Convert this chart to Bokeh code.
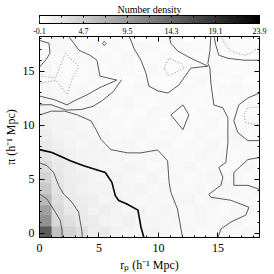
import numpy as np
from bokeh.plotting import figure
from bokeh.layouts import column
from bokeh.models import (LinearColorMapper, FixedTicker, SingleIntervalTicker,
                          LinearAxis, Range1d, PrintfTickFormatter)
from bokeh.embed import file_html
from bokeh.resources import INLINE

# ---------------- data ----------------
# number density on a 1 h^-1 Mpc grid (row 0 = pi 0, column 0 = rp 0)
density_rows = [
    [15.4, 5.8, 4.0, 2.9, 1.6, 1.8, 1.2, 1.0, 0.9, 1.1, 0.8, 0.6, 0.7, 0.5, 0.6, 0.9, 0.5, 0.7, 0.6],
    [10.3, 3.6, 2.9, 2.0, 1.7, 1.2, 1.0, 1.3, 0.8, 0.9, 0.7, 0.8, 0.6, 0.7, 0.5, 0.6, 0.8, 0.4, 0.5],
    [8.9, 3.6, 2.2, 1.9, 1.3, 1.5, 1.1, 0.8, 1.0, 0.7, 0.9, 0.6, 0.5, 0.8, 0.6, 0.4, 0.7, 0.9, 0.5],
    [6.6, 3.0, 1.8, 1.6, 1.4, 1.0, 1.2, 0.9, 0.7, 0.8, 0.6, 0.7, 0.9, 0.5, 0.7, 0.6, 0.5, 0.6, 0.4],
    [5.1, 2.6, 1.7, 1.3, 1.1, 1.2, 0.9, 0.8, 1.0, 0.6, 0.8, 0.5, 0.6, 0.7, 0.4, 0.8, 0.6, 0.5, 0.7],
    [4.1, 2.4, 1.5, 1.4, 1.0, 0.9, 1.1, 0.7, 0.6, 0.9, 0.5, 0.7, 0.4, 0.6, 0.8, 0.5, 0.7, 0.4, 0.6],
    [3.2, 2.0, 1.6, 1.2, 1.1, 0.8, 0.7, 1.0, 0.8, 0.5, 0.7, 0.6, 0.8, 0.5, 0.6, 0.4, 0.5, 0.8, 0.5],
    [2.6, 1.8, 1.3, 1.0, 0.9, 1.0, 0.8, 0.6, 0.7, 0.8, 0.4, 0.6, 0.5, 0.7, 0.5, 0.6, 0.4, 0.5, 0.6],
    [1.9, 1.4, 1.1, 0.8, 1.0, 0.7, 0.6, 0.8, 0.5, 0.6, 0.7, 0.4, 0.6, 0.5, 0.7, 0.4, 0.6, 0.5, 0.4],
    [1.5, 1.2, 0.9, 1.0, 0.7, 0.8, 0.5, 0.6, 0.7, 0.4, 0.6, 0.5, 0.3, 0.6, 0.4, 0.5, 0.7, 0.4, 0.6],
    [1.3, 1.0, 1.1, 0.7, 0.8, 0.5, 0.6, 0.4, 0.6, 0.5, 0.3, 0.6, 0.5, 0.4, 0.6, 0.3, 0.5, 0.6, 0.4],
    [1.1, 0.9, 0.7, 0.8, 0.6, 0.7, 0.4, 0.5, 0.3, 0.6, 0.5, 0.4, 0.3, 0.5, 0.4, 0.6, 0.4, 0.3, 0.5],
    [1.0, 0.8, 0.9, 0.6, 0.7, 0.4, 0.5, 0.6, 0.4, 0.3, 0.5, 0.6, 0.4, 0.3, 0.5, 0.4, 0.3, 0.5, 0.4],
    [0.9, 0.6, 0.5, 0.7, 0.4, 0.6, 0.3, 0.4, 0.6, 0.5, 0.4, 0.3, 0.5, 0.4, 0.3, 0.5, 0.6, 0.4, 0.3],
    [0.7, 0.5, 0.3, 0.4, 0.6, 0.5, 0.4, 0.3, 0.5, 0.4, 0.2, 0.3, 0.4, 0.6, 0.4, 0.3, 0.5, 0.2, 0.4],
    [0.8, 0.4, 0.2, 0.3, 0.5, 0.4, 0.6, 0.5, 0.3, 0.6, 0.3, 0.2, 0.3, 0.4, 0.5, 0.4, 0.3, 0.4, 0.3],
    [0.6, 0.5, 0.4, 0.6, 0.3, 0.5, 0.4, 0.6, 0.4, 0.3, 0.5, 0.3, 0.4, 0.3, 0.6, 0.3, 0.2, 0.3, 0.5],
    [0.7, 0.6, 0.5, 0.4, 0.6, 0.3, 0.5, 0.4, 0.6, 0.5, 0.4, 0.6, 0.5, 0.4, 0.3, 0.5, 0.3, 0.4, 0.4],
    [0.5, 0.7, 0.6, 0.5, 0.4, 0.6, 0.4, 0.5, 0.3, 0.4, 0.6, 0.5, 0.3, 0.5, 0.4, 0.6, 0.4, 0.5, 0.3],
]
density_low, density_high = -0.1, 23.9
cbar_ticks = [-0.1, 4.7, 9.5, 14.3, 19.1, 23.9]

# contour traces (rp, pi) in h^-1 Mpc
thick_x = [0, 1.05, 2.59, 3.71, 5.53, 6.09, 6.37, 6.66, 7.35, 8.28, 8.53, 8.78]
thick_y = [7.75, 7.48, 6.72, 6.26, 5.64, 4.72, 3.5, 3.05, 2.73, 2.16, 0.6, -0.4]

inner_a_x = [0, 0.63, 1.33, 1.75, 1.89, 1.9]
inner_a_y = [3.65, 3.19, 1.97, 1.21, 0.3, -0.4]

inner_b_x = [0, 0.63, 1.19, 1.61, 2.03, 2.73, 3.29, 3.43, 3.57, 3.6]
inner_b_y = [6.53, 6.26, 5.64, 4.42, 3.65, 2.89, 1.97, 1.06, 0.2, -0.4]

c_x = [0, 1.0, 2.1, 3.2, 4.33, 4.75, 5.17, 6.0, 7.4, 8.53, 9.93, 10.77, 10.9, 11.05, 11.6, 12.03]
c_y = [10.95, 11.3, 11.3, 10.95, 10.4, 9.6, 8.7, 7.75, 7.45, 7.45, 7.72, 6.72, 4.72, 3.8, 2.27, -0.4]

d_x = [0, 0.97, 2.23, 3.49, 4.5, 5.3, 6.2, 6.9]
d_y = [11.88, 11.9, 11.4, 11.45, 11.75, 12.3, 13.1, 14.2]

e_x = [0, 1.3, 2.31, 2.9, 3.99, 5.0, 6.51, 5.08, 4.83, 4.24, 3.32, 2.9, 2.56, 2.4]
e_y = [12.7, 12.34, 11.88, 12.25, 12.8, 13.44, 14.17, 14.54, 16.01, 16.47, 16.93, 17.57, 18.04, 18.3]

tl_x = [0, 0.8, 0.88, 0.63, 0]
tl_y = [17.84, 17.57, 16.65, 16.19, 15.37]

f_x = [7.52, 7.94, 8.53, 8.95, 9.2, 9.96, 10.8, 11.72, 12.73, 14.16, 12.73, 11.64, 11.05, 10.88]
f_y = [18.3, 17.11, 16.01, 14.82, 13.62, 13.17, 12.98, 13.72, 15.28, 15.46, 16.19, 16.84, 17.57, 18.3]

g_x = [14.41, 14.33, 14.16, 14.33, 14.41, 14.66, 15.42, 15.84, 15.84, 15.67, 15.08, 15.42, 15.25,
       14.24, 14.41, 16.09, 17.61, 17.35, 16.09, 15.25, 15.0]
g_y = [18.3, 16.84, 15.73, 15.28, 13.9, 11.88, 11.61, 10.69, 8.39, 6.56, 6.1, 5.18, 4.45,
       3.62, 3.35, 3.07, 2.43, 1.7, 1.06, 0.41, -0.4]

tr_x = [14.66, 14.83, 15.08, 15.84, 17.18, 18.5]
tr_y = [18.3, 17.39, 16.47, 16.19, 16.01, 16.01]

r1_x = [18.5, 17.52, 16.76, 16.34, 16.68, 17.52, 18.5]
r1_y = [12.98, 12.52, 11.88, 10.41, 9.31, 8.58, 8.58]

r2_x = [18.5, 17.52, 16.34, 16.34, 17.52, 18.5]
r2_y = [7.02, 6.83, 5.64, 4.45, 4.45, 4.08]

sd_x = [11.05, 12.06, 12.56, 12.06, 11.05]
sd_y = [10.96, 11.88, 10.96, 9.59, 10.96]

tiny_x = [5.3, 5.45, 5.6, 5.45, 5.3]
tiny_y = [17.55, 17.75, 17.55, 17.35, 17.55]

# negative-level (dotted) contours
dl_x = [0, 1.33, 2.17, 3.29, 2.73, 2.31, 1.39, 0]
dl_y = [14.57, 14.36, 16.65, 15.43, 14.2, 12.83, 14.17, 13.85]

dm_x = [10.46, 10.88, 11.89, 12.14, 10.88, 10.46]
dm_y = [15.28, 16.19, 15.73, 15.28, 14.54, 15.28]

dtr_x = [15.25, 15.42, 16.09, 17.18, 17.77, 18.5]
dtr_y = [18.3, 17.84, 16.84, 16.47, 16.65, 17.25]

dr_x = [18.5, 17.52, 17.18, 17.35, 18.5]
dr_y = [11.7, 11.61, 10.96, 10.23, 10.05]

# ---------------- styling ----------------
SERIF = "Liberation Serif"
palette = ["#%02x%02x%02x" % (255 - i, 255 - i, 255 - i) for i in range(256)]
mapper = LinearColorMapper(palette=palette, low=density_low, high=density_high)


def tick_only_axis(ticker, tick_len=5):
    return LinearAxis(ticker=ticker, major_label_text_color=None,
                      major_label_text_font_size="1px", major_label_standoff=0,
                      major_tick_in=tick_len, major_tick_out=0, minor_tick_in=2,
                      minor_tick_out=0, axis_line_color="black",
                      major_tick_line_color="black", minor_tick_line_color="black")


# ---------------- colour bar figure ----------------
minor = [(a + b) / 2 for a, b in zip(cbar_ticks[:-1], cbar_ticks[1:])]
cbf = figure(frame_width=220, frame_height=8, x_range=Range1d(density_low, density_high),
             y_range=Range1d(0, 1), output_backend="svg", toolbar_location=None,
             min_border_left=38, min_border_right=16, min_border_top=0, min_border_bottom=0)
cbf.title.text = "Number density"
cbf.title.align = "center"
cbf.title.text_font = SERIF
cbf.title.text_font_size = "10px"
cbf.title.text_font_style = "normal"
cbf.title.text_color = "black"
cbf.title.standoff = 2
cbf.title.offset = 0
cbf.grid.visible = False
cbf.yaxis.visible = False
cbf.outline_line_color = "black"
gradient = np.linspace(density_low, density_high, 256)[None, :]
cbf.image(image=[gradient], x=density_low, y=0, dw=density_high - density_low, dh=1,
          color_mapper=mapper)
cbax = cbf.xaxis[0]
cbax.ticker = FixedTicker(ticks=cbar_ticks, minor_ticks=minor)
cbax.formatter = PrintfTickFormatter(format="%.1f")
cbax.major_label_text_font = SERIF
cbax.major_label_text_font_size = "8px"
cbax.major_label_text_color = "black"
cbax.major_label_standoff = 4
cbax.major_tick_in = 2
cbax.major_tick_out = 0
cbax.minor_tick_in = 1
cbax.minor_tick_out = 0
cbax.axis_line_color = "black"
cbf.add_layout(tick_only_axis(FixedTicker(ticks=cbar_ticks, minor_ticks=minor), 2), "above")

# ---------------- main figure ----------------
p = figure(frame_width=220, frame_height=201, x_range=Range1d(0, 18.5),
           y_range=Range1d(-0.37, 18.2),
           output_backend="svg", toolbar_location=None,
           min_border_left=38, min_border_right=16, min_border_bottom=0, min_border_top=0)
p.grid.visible = False
p.outline_line_color = "black"
p.outline_line_width = 1

arr = np.array(density_rows, dtype=float)
ny, nx = arr.shape
p.image(image=[arr], x=0, y=-0.37, dw=nx, dh=ny, color_mapper=mapper)

thin_col = "#5a5a5a"
p.multi_line([inner_a_x, inner_b_x, c_x, d_x, e_x, tl_x, f_x, g_x, tr_x, r1_x, r2_x, sd_x, tiny_x],
             [inner_a_y, inner_b_y, c_y, d_y, e_y, tl_y, f_y, g_y, tr_y, r1_y, r2_y, sd_y, tiny_y],
             line_color=thin_col, line_width=1)
p.multi_line([dl_x, dm_x, dtr_x, dr_x], [dl_y, dm_y, dtr_y, dr_y],
             line_color="#8a8a8a", line_width=1, line_dash="1 2")
p.line(thick_x, thick_y, line_color="black", line_width=1.6)

for ax in (p.xaxis[0], p.yaxis[0]):
    ax.ticker = SingleIntervalTicker(interval=5, num_minor_ticks=5)
    ax.major_tick_in = 5
    ax.major_tick_out = 0
    ax.minor_tick_in = 2
    ax.minor_tick_out = 0
    ax.axis_line_color = "black"
    ax.major_tick_line_color = "black"
    ax.minor_tick_line_color = "black"
    ax.major_label_text_font = SERIF
    ax.major_label_text_font_size = "12px"
    ax.major_label_text_color = "black"
    ax.axis_label_text_font = SERIF
    ax.axis_label_text_font_size = "12px"
    ax.axis_label_text_font_style = "normal"
    ax.axis_label_text_color = "black"
    ax.axis_label_standoff = 3
    ax.major_label_standoff = 6

p.yaxis.major_label_standoff = 5
p.yaxis.axis_label_standoff = 2
p.xaxis.axis_label = "r\u209a (h\u207b\u00b9 Mpc)"
p.yaxis.axis_label = "\u03c0 (h\u207b\u00b9 Mpc)"
p.yaxis.major_label_orientation = "horizontal"

p.add_layout(tick_only_axis(SingleIntervalTicker(interval=5, num_minor_ticks=5)), "above")
p.add_layout(tick_only_axis(SingleIntervalTicker(interval=5, num_minor_ticks=5)), "right")

layout = column(cbf, p, spacing=0)
open("out.html", "w").write(file_html(layout, INLINE))
